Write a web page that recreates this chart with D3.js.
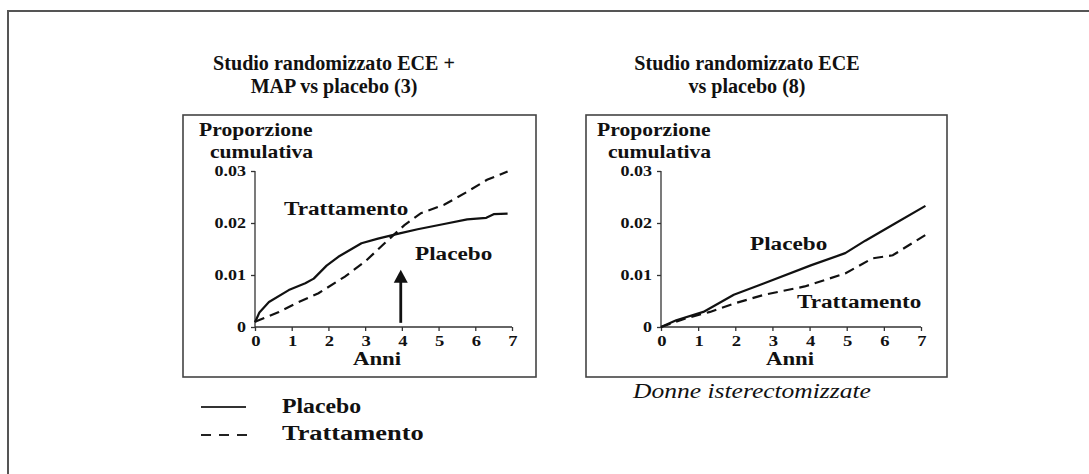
<!DOCTYPE html>
<html><head><meta charset="utf-8">
<script src="https://cdn.jsdelivr.net/npm/d3@7"></script>
<style>body{margin:0;background:#fff}svg{display:block}</style>
</head><body>
<script>
// ---- data ----
const years = [0,1,2,3,4,5,6,7];
const yTicks = [0, 0.01, 0.02, 0.03];
const yTickLabels = ["0", "0.01", "0.02", "0.03"];
const titles1 = ["Studio randomizzato ECE +", "MAP vs placebo (3)"];
const titles2 = ["Studio randomizzato ECE", "vs placebo (8)"];
const yLabel = ["Proporzione", "cumulativa"];
const xLabel = "Anni";
const seriesNames = ["Placebo", "Trattamento"];
const arrowYear = 3.97, arrowFrom = 0.0008, arrowTo = 0.011;

// left panel: ECE + MAP vs placebo
const leftPlacebo = [[0,0.0009],[0.12,0.0028],[0.38,0.0048],[0.92,0.0071],[1.37,0.0084],[1.6,0.0093],
  [1.95,0.0118],[2.27,0.0135],[2.9,0.0161],[3.35,0.0170],[3.94,0.0180],[4.43,0.0188],[5.15,0.0198],
  [5.78,0.0207],[6.3,0.0210],[6.5,0.0217],[6.88,0.0218]];
const leftTreat = [[0,0.0010],[0.65,0.0029],[1.1,0.0045],[1.73,0.0065],[2.45,0.0097],[3.0,0.0126],
  [3.53,0.0161],[4.07,0.0196],[4.52,0.0219],[5.15,0.0235],[5.78,0.0260],[6.32,0.0283],[6.88,0.0299]];
// right panel: ECE vs placebo
const rightPlacebo = [[0,0],[0.41,0.0013],[1.14,0.0029],[1.96,0.0062],[2.78,0.0084],[4.05,0.0119],
  [4.96,0.0142],[5.5,0.0166],[6.3,0.0199],[7.12,0.0233]];
const rightTreat = [[0,0],[0.68,0.0017],[1.32,0.0029],[1.96,0.0045],[2.78,0.0062],[3.87,0.0078],
  [4.96,0.0103],[5.69,0.0132],[6.24,0.0138],[7.12,0.0177]];

// ---- drawing ----
const W = 1089, H = 474;
const svg = d3.select("body").append("svg").attr("width", W).attr("height", H);
const SERIF = "'Liberation Serif','Times New Roman',serif";
const INK = "#111";

function txt(g, x, y, s, o) {
  o = o || {};
  return g.append("text")
    .attr("transform", `translate(${x},${y}) scale(${o.sx || 1},1)`)
    .attr("text-anchor", o.anchor || "start")
    .attr("font-family", SERIF)
    .attr("font-weight", o.weight || "bold")
    .attr("font-style", o.style || "normal")
    .attr("font-size", o.size || 16)
    .attr("fill", INK)
    .text(s);
}

// outer frame (top and left edges)
svg.append("path").attr("d", `M8,${H} V11 H${W}`).attr("fill", "none")
  .attr("stroke", "#555").attr("stroke-width", 2);

function panel(cfg) {
  const g = svg.append("g");
  g.append("rect").attr("x", cfg.box[0]).attr("y", cfg.box[1])
    .attr("width", cfg.box[2] - cfg.box[0]).attr("height", cfg.box[3] - cfg.box[1])
    .attr("fill", "none").attr("stroke", "#444").attr("stroke-width", 1.6);

  const x = d3.scaleLinear().domain([0, 7]).range(cfg.xr);
  const y = d3.scaleLinear().domain([0, 0.03]).range([327, 171]);

  // y axis
  const ya = g.append("g").attr("transform", `translate(${cfg.xr[0]},0)`)
    .call(d3.axisLeft(y).tickValues(yTicks).tickSize(4).tickFormat(""));
  ya.selectAll("path,line").attr("stroke", "#333").attr("stroke-width", 1.3);
  ya.select(".domain").attr("d", `M0,${y(0)}V${y(0.03)}`);
  yTicks.forEach((t, i) => txt(g, cfg.xr[0] - 9, y(t) + 5, yTickLabels[i], {size: 15, sx: 1.2, anchor: "end"}));

  // x axis
  const xa = g.append("g").attr("transform", `translate(0,${y(0)})`)
    .call(d3.axisBottom(x).tickValues(years).tickSize(4).tickFormat(""));
  xa.selectAll("path,line").attr("stroke", "#333").attr("stroke-width", 1.3);
  xa.select(".domain").attr("d", `M${x(0)},0H${x(7)}`);
  years.forEach(t => txt(g, x(t) + 1, 346, String(t), {size: 15.5, sx: 1.2, anchor: "middle"}));
  txt(g, cfg.anniX, 365, xLabel, {size: 19, sx: 1.2, anchor: "middle"});

  // y label
  txt(g, cfg.yl[0], 136, yLabel[0], {size: 18, sx: 1.2});
  txt(g, cfg.yl[1], 158, yLabel[1], {size: 18, sx: 1.2});

  const line = d3.line().x(d => x(d[0])).y(d => y(d[1])).curve(d3.curveLinear);
  g.append("path").datum(cfg.placebo).attr("d", line).attr("fill", "none")
    .attr("stroke", INK).attr("stroke-width", 2.2).attr("stroke-linejoin", "round");
  g.append("path").datum(cfg.treat).attr("d", line).attr("fill", "none")
    .attr("stroke", INK).attr("stroke-width", 2.2).attr("stroke-dasharray", "10,6");

  cfg.labels.forEach(l => txt(g, l[0], l[1], l[2], {size: 19, sx: 1.22}));

  // titles
  txt(svg, cfg.titleX, 70, cfg.titles[0], {size: 20.5, sx: 0.98, anchor: "middle"});
  txt(svg, cfg.titleX, 93, cfg.titles[1], {size: 20.5, sx: 0.98, anchor: "middle"});
  return {g, x, y};
}

const p1 = panel({
  box: [183, 115, 536, 377], xr: [255, 512], anniX: 377, yl: [199, 210],
  placebo: leftPlacebo, treat: leftTreat,
  labels: [[284, 215, seriesNames[1]], [415, 260, seriesNames[0]]],
  titleX: 334, titles: titles1
});
const p2 = panel({
  box: [586, 115, 947, 377], xr: [661, 921], anniX: 790, yl: [597, 608],
  placebo: rightPlacebo, treat: rightTreat,
  labels: [[750, 250, seriesNames[0]], [797, 308, seriesNames[1]]],
  titleX: 747, titles: titles2
});

// arrow in left panel
{
  const ax = p1.x(arrowYear), y0 = p1.y(arrowFrom), y1 = p1.y(arrowTo);
  p1.g.append("line").attr("x1", ax).attr("x2", ax).attr("y1", y0).attr("y2", y1 + 10)
    .attr("stroke", INK).attr("stroke-width", 2.8);
  p1.g.append("path").attr("d", `M${ax},${y1} L${ax - 7},${y1 + 13} L${ax + 7},${y1 + 13} Z`).attr("fill", INK);
}

// legend
const lg = svg.append("g");
lg.append("line").attr("x1", 201).attr("x2", 246).attr("y1", 407).attr("y2", 407)
  .attr("stroke", "#333").attr("stroke-width", 2.2);
lg.append("line").attr("x1", 201).attr("x2", 247).attr("y1", 435).attr("y2", 435)
  .attr("stroke", "#222").attr("stroke-width", 2.2).attr("stroke-dasharray", "10,8");
txt(lg, 282, 413, seriesNames[0], {size: 22, sx: 1.08});
txt(lg, 282, 440, seriesNames[1], {size: 22, sx: 1.2});

// subtitle under right panel
txt(svg, 752, 398, "Donne isterectomizzate", {size: 22, sx: 1.16, weight: "normal", style: "italic", anchor: "middle"});
</script>
</body></html>
